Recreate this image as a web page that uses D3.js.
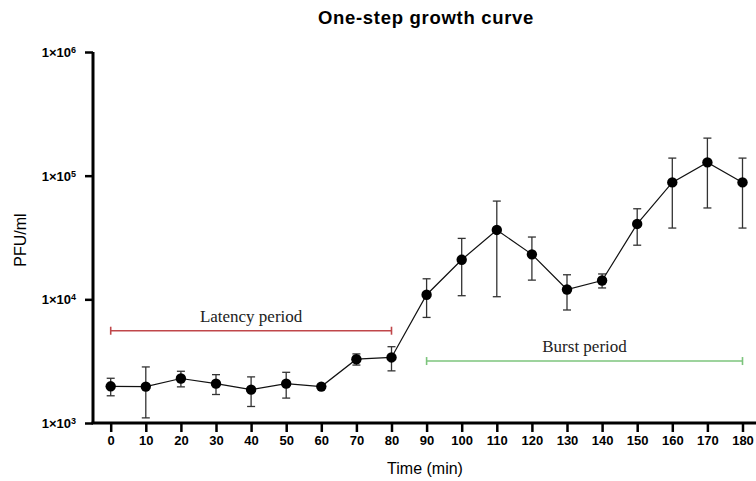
<!DOCTYPE html>
<html>
<head>
<meta charset="utf-8">
<script src="https://cdn.jsdelivr.net/npm/d3@7"></script>
<style>
  html, body { margin: 0; padding: 0; background: #fff; }
  svg { display: block; }
</style>
</head>
<body>
<svg id="chart" width="756" height="481"></svg>
<script>
// ---- data ----
const times = [0, 10, 20, 30, 40, 50, 60, 70, 80, 90, 100, 110, 120, 130, 140, 150, 160, 170, 180];
const pfuMean = [1980, 1970, 2290, 2080, 1860, 2080, 1970, 3280, 3390, 10900, 20900, 36400, 23100, 12000, 14200, 40700, 88200, 128000, 88200];
const pfuSD = [320, 870, 330, 380, 500, 490, 0, 340, 750, 3760, 10200, 25900, 8800, 3800, 1840, 13300, 50500, 73200, 50500];
const yTicks = [1e3, 1e4, 1e5, 1e6];
const yTickExp = ["3", "4", "5", "6"];
const periodLabels = ["Latency period", "Burst period"];
const periodStart = [0, 90];
const periodEnd = [80, 180];
const periodLevel = [5575, 3170];
const periodLabelTime = [40, 135];
const periodColors = ["#c0474a", "#7cc47c"];

const svg = d3.select("#chart");
const x = d3.scaleLinear().domain([0, 180]).range([110.7, 742.5]);
const y = d3.scaleLog().domain([1e3, 1e6]).range([423, 52]);

// title
svg.append("text").attr("x", 426).attr("y", 23.5).attr("text-anchor", "middle")
  .attr("font-family", "Liberation Sans, Arial, sans-serif").attr("font-weight", "bold")
  .attr("font-size", 18.5).attr("letter-spacing", 0.7).text("One-step growth curve");

// y axis
const yAxis = d3.axisLeft(y).tickValues(yTicks).tickSize(8).tickFormat(() => "");
const gy = svg.append("g").attr("transform", "translate(93,0)").call(yAxis);
gy.select(".domain").attr("stroke", "#000").attr("stroke-width", 3).attr("d", `M0,${y(1e6)}V${y(1e3)}`);
gy.selectAll(".tick line").attr("stroke", "#000").attr("stroke-width", 2.5);
gy.selectAll(".tick").each(function(d, i) {
  const t = d3.select(this).append("text").attr("x", -17).attr("dy", "0.35em")
    .attr("fill", "#000").attr("text-anchor", "end")
    .attr("font-family", "Liberation Sans, Arial, sans-serif").attr("font-weight", "bold").attr("font-size", 13);
  t.append("tspan").text("1×10");
  t.append("tspan").attr("dy", "-0.45em").attr("font-size", 9).text(yTickExp[i]);
});

// x axis
const xAxis = d3.axisBottom(x).tickValues(times).tickSize(9).tickFormat(d3.format("d"));
const gx = svg.append("g").attr("transform", "translate(0,423)").call(xAxis);
gx.select(".domain").attr("stroke", "#000").attr("stroke-width", 3).attr("d", "M91.5,0H756");
gx.selectAll(".tick line").attr("stroke", "#000").attr("stroke-width", 2.5);
gx.selectAll(".tick text").attr("y", 13).attr("fill", "#000")
  .attr("font-family", "Liberation Sans, Arial, sans-serif").attr("font-weight", "bold").attr("font-size", 13);

// axis titles
svg.append("text").attr("x", 425).attr("y", 474).attr("text-anchor", "middle")
  .attr("font-family", "Liberation Sans, Arial, sans-serif").attr("font-size", 16).text("Time (min)");
svg.append("text").attr("transform", "translate(26,240) rotate(-90)").attr("text-anchor", "middle")
  .attr("font-family", "Liberation Sans, Arial, sans-serif").attr("font-size", 16).text("PFU/ml");

// period annotations
periodLabels.forEach((lab, i) => {
  const g = svg.append("g").attr("stroke", periodColors[i]).attr("stroke-width", 1.6);
  const yy = y(periodLevel[i]);
  g.append("line").attr("x1", x(periodStart[i])).attr("x2", x(periodEnd[i])).attr("y1", yy).attr("y2", yy);
  [periodStart[i], periodEnd[i]].forEach(t => {
    g.append("line").attr("x1", x(t)).attr("x2", x(t)).attr("y1", yy - 4).attr("y2", yy + 4);
  });
  svg.append("text").attr("x", x(periodLabelTime[i])).attr("y", yy - 9).attr("text-anchor", "middle")
    .attr("font-family", "Liberation Serif, Times New Roman, serif").attr("font-size", 17)
    .attr("fill", "#222").text(lab);
});

// data
const pts = times.map((t, i) => ({ t, m: pfuMean[i], s: pfuSD[i] }));

const eg = svg.append("g").attr("stroke", "#333").attr("stroke-width", 1.3);
pts.filter(d => d.s > 0).forEach(d => {
  const cx = x(d.t), y1 = y(d.m + d.s), y2 = y(d.m - d.s);
  eg.append("line").attr("x1", cx).attr("x2", cx).attr("y1", y1).attr("y2", y2);
  eg.append("line").attr("x1", cx - 4).attr("x2", cx + 4).attr("y1", y1).attr("y2", y1);
  eg.append("line").attr("x1", cx - 4).attr("x2", cx + 4).attr("y1", y2).attr("y2", y2);
});

svg.append("path").datum(pts)
  .attr("fill", "none").attr("stroke", "#111").attr("stroke-width", 1.2)
  .attr("d", d3.line().x(d => x(d.t)).y(d => y(d.m)));

svg.append("g").selectAll("circle").data(pts).join("circle")
  .attr("cx", d => x(d.t)).attr("cy", d => y(d.m)).attr("r", 5.2).attr("fill", "#000");
</script>
</body>
</html>
